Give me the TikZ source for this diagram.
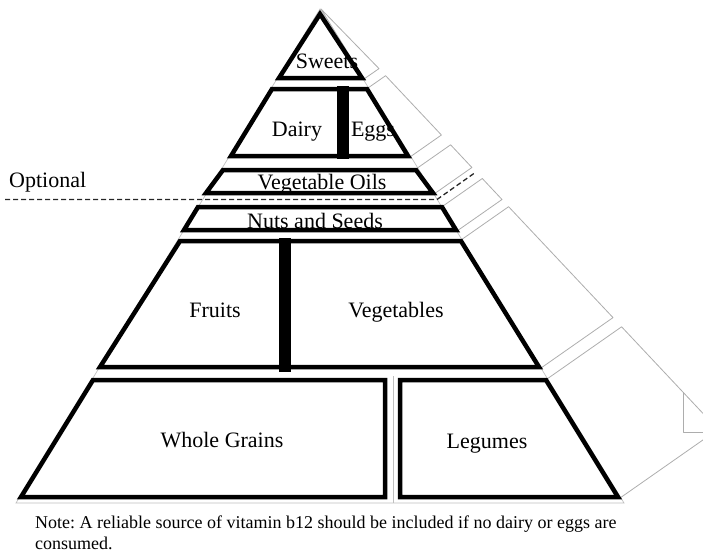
\documentclass[tikz,border=0pt]{standalone}
\usepackage{fontspec}
\setmainfont{Liberation Serif}
\usetikzlibrary{calc}
\frenchspacing
\begin{document}
\begin{tikzpicture}[x=1pt,y=-1pt,
  tier/.style={draw=black, line width=4.5pt, line join=miter},
  divbar/.style={draw=black, line width=12pt},
  panel/.style={draw=black!32, line width=0.8pt, line join=round},
  faint/.style={draw=black!25, line width=0.7pt},
  lbl/.style={font=\fontsize{22}{26}\selectfont, inner sep=0pt, anchor=base},
  notetxt/.style={font=\fontsize{18}{21}\selectfont, inner sep=0pt, anchor=base west},
  optline/.style={dash pattern=on 5pt off 3pt, line width=1.3pt, draw=black!85}]
\useasboundingbox (0,0) rectangle (703,554);
\clip (0,0) rectangle (703,554);

% faint underlying pyramid
\draw[faint] (320,9) -- (16,503) -- (624,503) -- cycle;
\draw[faint] (393,376) -- (393,503);

% side panels (right face)
\draw[panel] (321,9) -- (379,68.6) -- (364,79) -- cycle;
\draw[panel] (368,88) -- (385.6,75.7) -- (441.4,135) -- (410,157) -- cycle;
\draw[panel] (416,169) -- (450.6,144.8) -- (471.9,167.5) -- (434,194) -- cycle;
\draw[panel] (443,206) -- (482.3,178.5) -- (502,199.5) -- (457,231) -- cycle;
\draw[panel] (461,240) -- (508.6,206.7) -- (613,317.6) -- (541,368) -- cycle;
\draw[panel] (547,379) -- (621.6,326.8) -- (718,429.4) -- (620,498) -- cycle;
\draw[panel] (683,392) -- (683,432) -- (703,432);

% labels
\node[lbl] (sweets) at (327,68) {Sweets};
\node[lbl] (dairy) at (297,136) {Dairy};
\node[lbl] (eggs) at (373,136) {Eggs};
\node[lbl] (oils) at (322,189) {Vegetable Oils};
\node[lbl] (nuts) at (315,228) {Nuts and Seeds};
\node[lbl, anchor=base west] (opt) at (9,187) {Optional};
\node[lbl] (fruits) at (215,317) {Fruits};
\node[lbl] (veg) at (396,317) {Vegetables};
\node[lbl] (grains) at (222,447) {Whole Grains};
\node[lbl] (legumes) at (487,448) {Legumes};
\node[notetxt] (note1) at (35,528) {Note: A reliable source of vitamin b12 should be included if no dairy or eggs are};
\node[notetxt] (note2) at (35,549) {consumed.};

% optional divider
\draw[optline] (5,199.5) -- (437,199.5) -- (476,172);

% tiers
\draw[tier] (320,14) -- (362,78) -- (279,78) -- cycle;
\draw[tier] (272,89) -- (367,89) -- (408,156) -- (231,156) -- cycle;
\draw[tier] (223,170) -- (416,170) -- (433,193) -- (206,193) -- cycle;
\draw[tier] (198,207) -- (442,207) -- (456,230) -- (184,230) -- cycle;
\draw[tier] (180,241) -- (461,241) -- (539,367) -- (100,367) -- cycle;
\draw[tier] (93,380) -- (385,380) -- (385,497) -- (21,497) -- cycle;
\draw[tier] (400,380) -- (546,380) -- (618,497) -- (400,497) -- cycle;

% dividing bars
\draw[divbar] (343,86) -- (343,159);
\draw[divbar] (285,238) -- (285,372);
\end{tikzpicture}
\end{document}
